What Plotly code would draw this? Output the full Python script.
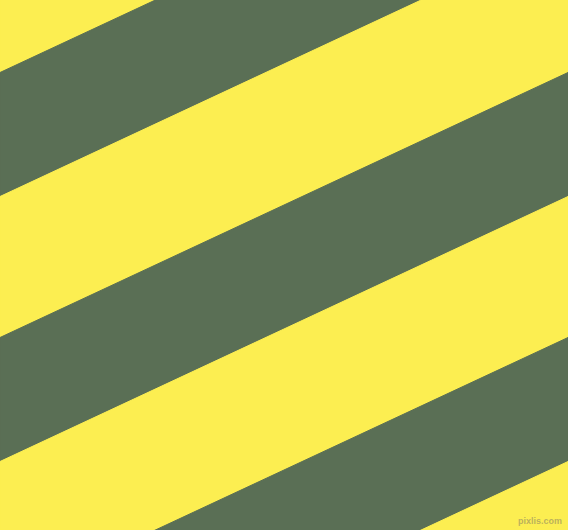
import plotly.graph_objects as go

W = 568
H = 530

# stripe edges where they meet the left and right border (y from top, px)
left_edge = [-68.5, 72.5, 196.5, 337.5, 461.5, 602.5, 726.5, 867.5]
right_edge = [-333.5, -192.5, -68.5, 72.5, 196.5, 337.5, 461.5, 602.5]
stripe_colors = ["#fcee51", "#5a6f55", "#fcee51", "#5a6f55",
                 "#fcee51", "#5a6f55", "#fcee51"]

fig = go.Figure()

for i, c in enumerate(stripe_colors):
    xs = [0, W, W, 0, 0]
    ys = [left_edge[i], right_edge[i], right_edge[i + 1], left_edge[i + 1], left_edge[i]]
    fig.add_trace(go.Scatter(
        x=xs, y=ys,
        mode="lines",
        fill="toself",
        fillcolor=c,
        line=dict(width=1, color=c),
        hoverinfo="skip",
        showlegend=False,
    ))

fig.add_annotation(
    text="<b>pixlis.com</b>",
    x=1, y=0, xref="paper", yref="paper",
    xanchor="right", yanchor="bottom",
    xshift=-4, yshift=2,
    showarrow=False,
    font=dict(family="Liberation Sans", size=9, color="rgba(165,155,95,0.75)"),
)

fig.update_xaxes(range=[0, W], visible=False, fixedrange=True)
fig.update_yaxes(range=[H, 0], visible=False, fixedrange=True)
fig.update_layout(
    width=W, height=H,
    margin=dict(l=0, r=0, t=0, b=0),
    paper_bgcolor="#fcee51",
    plot_bgcolor="#fcee51",
)

# page margin would push the figure off the window
fig.write_html("out.html", config={"displayModeBar": False},
               post_script="document.body.style.margin='0';document.body.style.overflow='hidden';")
